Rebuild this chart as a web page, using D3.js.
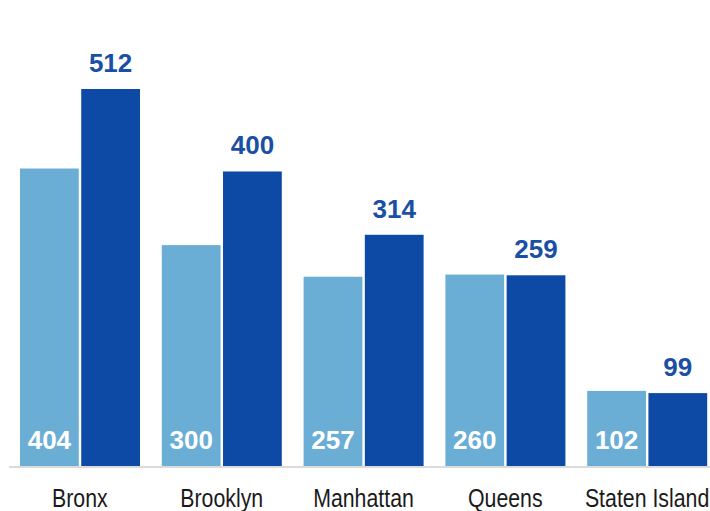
<!DOCTYPE html>
<html>
<head>
<meta charset="utf-8">
<script src="https://cdn.jsdelivr.net/npm/d3@7"></script>
<style>
  body { margin: 0; background: #fff; }
  svg { display: block; }
</style>
</head>
<body>
<div id="chart"></div>
<script>
const boroughs = ["Bronx", "Brooklyn", "Manhattan", "Queens", "Staten Island"];
const before = [404, 300, 257, 260, 102];
const after = [512, 400, 314, 259, 99];
const seriesKeys = ["before", "after"];

const width = 710, height = 511;
const baseY = 466;

const rows = boroughs.map((b, i) => ({ name: b, before: before[i], after: after[i] }));

const svg = d3.select("#chart").append("svg")
    .attr("width", width)
    .attr("height", height);

const x0 = d3.scaleBand()
    .domain(boroughs)
    .range([9, 718])
    .padding(0);

const x1 = d3.scaleBand()
    .domain(seriesKeys)
    .range([11, 131])
    .paddingInner(0.04);

const y = d3.scaleLinear()
    .domain([0, d3.max(after)])
    .range([baseY, 89]);

const color = { before: "#6aaed6", after: "#0d4aa6" };

// baseline
svg.append("line")
    .attr("x1", 9).attr("x2", width)
    .attr("y1", baseY + 1).attr("y2", baseY + 1)
    .attr("stroke", "#cfcfcf")
    .attr("stroke-width", 1.5);

const groups = svg.selectAll("g.grp")
    .data(rows)
    .enter().append("g")
    .attr("class", "grp")
    .attr("transform", d => `translate(${x0(d.name)},0)`);

groups.selectAll("rect")
    .data(d => seriesKeys.map(k => ({ key: k, value: d[k] })))
    .enter().append("rect")
    .attr("x", d => x1(d.key))
    .attr("y", d => y(d.value))
    .attr("width", x1.bandwidth())
    .attr("height", d => baseY - y(d.value))
    .attr("fill", d => color[d.key]);

// white value inside light bars
groups.append("text")
    .attr("x", x1("before") + x1.bandwidth() / 2)
    .attr("y", baseY - 17)
    .attr("text-anchor", "middle")
    .attr("fill", "#fff")
    .style("font-family", "'Liberation Sans', Arial, sans-serif")
    .style("font-weight", "bold")
    .style("font-size", "26px")
    .text(d => d.before);

// blue value above dark bars
groups.append("text")
    .attr("x", x1("after") + x1.bandwidth() / 2)
    .attr("y", d => y(d.after) - 17)
    .attr("text-anchor", "middle")
    .attr("fill", "#1a4fa6")
    .style("font-family", "'Liberation Sans', Arial, sans-serif")
    .style("font-weight", "bold")
    .style("font-size", "26px")
    .text(d => d.after);

// category labels (narrow face, squeezed horizontally)
groups.append("text")
    .attr("transform", `translate(${x0.bandwidth() / 2},507) scale(0.82,1)`)
    .attr("text-anchor", "middle")
    .attr("fill", "#1a1a1a")
    .style("font-family", "'Liberation Sans', Arial, sans-serif")
    .style("font-size", "26px")
    .text(d => d.name);
</script>
</body>
</html>
